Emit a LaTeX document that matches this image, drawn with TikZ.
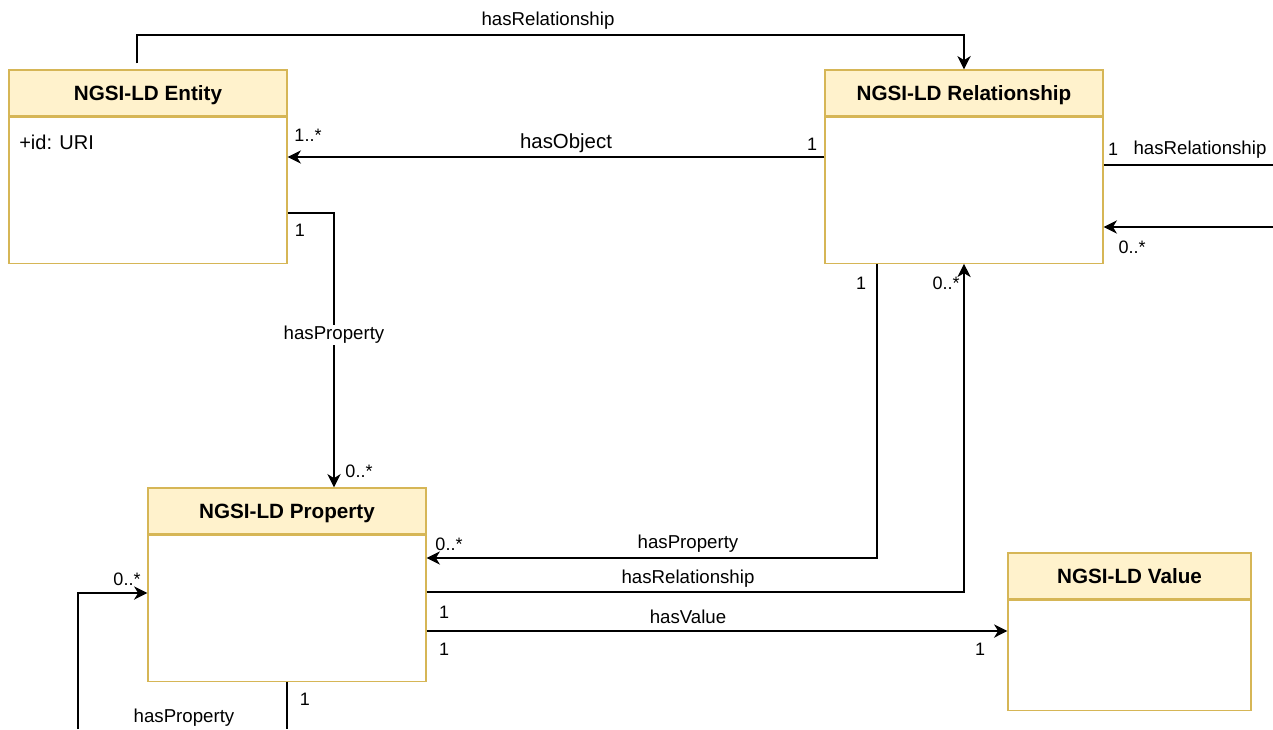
\documentclass[tikz,border=0pt]{standalone}
\usepackage{fontspec}
\setmainfont{Liberation Sans}
\usetikzlibrary{arrows.meta,positioning}
\definecolor{hdrfill}{HTML}{FFF2CC}
\definecolor{hdrline}{HTML}{D6B656}
\tikzset{
  x=0.75pt, y=-0.75pt,
  hdr/.style={draw=hdrline, fill=hdrfill, line width=0.9pt, minimum height=34.5pt, inner sep=0pt, text depth=0pt, font=\fontsize{15.5}{18}\selectfont\bfseries},
  bodybox/.style={draw=hdrline, fill=white, line width=0.9pt, inner sep=0pt},
  line/.style={draw=black, line width=1.1pt},
  arr/.style={line, -{Stealth[length=10pt,width=10pt,inset=3pt]}},
  lbl/.style={inner sep=1pt, yshift=-1.5pt, font=\fontsize{14}{16}\selectfont},
  mult/.style={inner sep=0pt, yshift=-1.5pt, font=\fontsize{13.5}{16}\selectfont},
}
\begin{document}
\begin{tikzpicture}
\useasboundingbox (0,0) rectangle (1273,729);
% classes
\node[hdr, minimum width=208.5pt] (entH) at (148,93) {NGSI-LD Entity};
\node[bodybox, minimum width=208.5pt, minimum height=109.5pt, anchor=north] (ent) at (entH.south) {};
\node[anchor=west, inner sep=0pt, yshift=-1.5pt, font=\fontsize{15}{18}\selectfont] (entAttr) at (19,140) {+id: URI};

\node[hdr, minimum width=208.5pt] (relH) at (964,93) {NGSI-LD Relationship};
\node[bodybox, minimum width=208.5pt, minimum height=109.5pt, anchor=north] (rel) at (relH.south) {};

\node[hdr, minimum width=208.5pt] (propH) at (287,511) {NGSI-LD Property};
\node[bodybox, minimum width=208.5pt, minimum height=109.5pt, anchor=north] (prop) at (propH.south) {};

\node[hdr, minimum width=182.25pt] (valH) at (1129.5,576) {NGSI-LD Value};
\node[bodybox, minimum width=182.25pt, minimum height=82.5pt, anchor=north] (val) at (valH.south) {};

% helper coordinates
\coordinate (topY) at (137,35);
\coordinate (objY) at (0,157);
\coordinate (entP) at (334,213);
\coordinate (rOut) at (1273,165);
\coordinate (rIn) at (1273,227);
\coordinate (p5) at (877,558);
\coordinate (p6) at (964,592);
\coordinate (valY) at (0,631);
\coordinate (bot) at (0,729);
\coordinate (loopB) at (78,729);
\coordinate (loopY) at (0,593);

% connectors
\draw[arr] ([xshift=-8.25pt,yshift=4.5pt]entH.north) -- (topY) -- (relH.north |- topY) -- (relH.north);
\draw[arr] (rel.west |- objY) -- (ent.east |- objY);
\draw[arr] (ent.east |- entP) -- (entP) -- (entP |- propH.north);
\draw[line] (rel.east |- rOut) -- (rOut);
\draw[arr] (rIn) -- (rel.east |- rIn);
\draw[arr] (rel.south -| p5) -- (p5) -- (prop.east |- p5);
\draw[arr] (prop.east |- p6) -- (p6) -- (rel.south -| p6);
\draw[arr] (prop.east |- valY) -- (val.west |- valY);
\draw[line] (prop.south) -- (prop.south |- bot);
\draw[arr] (loopB) -- (loopB |- loopY) -- (prop.west |- loopY);

% labels
\node[lbl] (t1) at (548,19) {hasRelationship};
\node[lbl, font=\fontsize{15.3}{18}\selectfont] (t2) at (566,141) {hasObject};
\node[mult] (m1) at (812,142) {1};
\node[mult] (m2) at (308,133) {1..*};
\node[mult] (m3) at (300,228) {1};
\node[lbl, fill=white] (t3) at (334,333) {hasProperty};
\node[mult] (m4) at (359,469) {0..*};
\node[mult] (m5) at (1113,147) {1};
\node[lbl] (t4) at (1200,148) {hasRelationship};
\node[mult] (m6) at (1132,245) {0..*};
\node[mult] (m7) at (861,281) {1};
\node[mult] (m8) at (946,281) {0..*};
\node[mult] (m9) at (449,542) {0..*};
\node[lbl] (t5) at (688,542) {hasProperty};
\node[lbl] (t6) at (688,577) {hasRelationship};
\node[mult] (m10) at (444,610) {1};
\node[lbl] (t7) at (688,615) {hasValue};
\node[mult] (m11) at (444,647) {1};
\node[mult] (m12) at (980,647) {1};
\node[mult] (m13) at (305,697) {1};
\node[mult] (m14) at (127,577) {0..*};
\node[lbl] (t8) at (184,716) {hasProperty};
\end{tikzpicture}
\end{document}
